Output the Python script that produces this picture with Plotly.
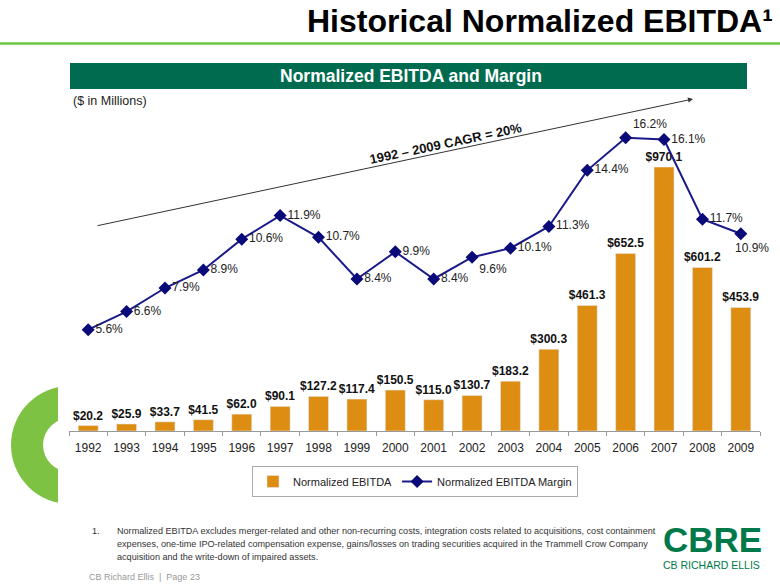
import plotly.graph_objects as go

years = ["1992", "1993", "1994", "1995", "1996", "1997", "1998", "1999", "2000",
         "2001", "2002", "2003", "2004", "2005", "2006", "2007", "2008", "2009"]
ebitda = [20.2, 25.9, 33.7, 41.5, 62.0, 90.1, 127.2, 117.4, 150.5,
          115.0, 130.7, 183.2, 300.3, 461.3, 652.5, 970.1, 601.2, 453.9]
margin = [5.6, 6.6, 7.9, 8.9, 10.6, 11.9, 10.7, 8.4, 9.9,
          8.4, 9.6, 10.1, 11.3, 14.4, 16.2, 16.1, 11.7, 10.9]
margin_labels = [f"{m:.1f}%" for m in margin]
margin_pos = ["middle right"] * 18
margin_pos[10] = "bottom right"
margin_pos[14] = "top right"

W, H = 780, 585
L, R, T, B = 69, 760, 120, 431
FONT = "Arial, Liberation Sans, sans-serif"
BAR = "#DE8D13"
NAVY = "#1A1A8A"
DKGREEN = "#006B4F"


def px(x):
    return (x - L) / (R - L)


def py(y):
    return (B - y) / (B - T)


# last point's label sits below and slightly right of its marker
trace_text = margin_labels[:-1] + [""]

fig = go.Figure()
fig.add_trace(go.Bar(
    x=years, y=ebitda, name="Normalized EBITDA", marker_color=BAR,
    width=0.52, texttemplate="<b>$%{y:.1f}</b>", textposition="outside",
    textfont=dict(family=FONT, size=12, color="#111111"),
    constraintext="none", cliponaxis=False, yaxis="y"))
fig.add_trace(go.Scatter(
    x=years, y=margin, name="Normalized EBITDA Margin", yaxis="y2",
    mode="lines+markers+text", line=dict(color=NAVY, width=2),
    marker=dict(symbol="diamond", size=10, color="#0A0A78"),
    text=trace_text, textposition=margin_pos,
    textfont=dict(family=FONT, size=12, color="#222222"), cliponaxis=False))

shapes = [
    dict(type="circle", xref="paper", yref="paper", x0=px(11), x1=px(129),
         y0=py(504), y1=py(386), fillcolor="#7DC242", line_width=0, layer="below"),
    dict(type="circle", xref="paper", yref="paper", x0=px(43), x1=px(97),
         y0=py(472), y1=py(418), fillcolor="white", line_width=0, layer="below"),
    dict(type="rect", xref="paper", yref="paper", x0=px(58), x1=px(781),
         y0=py(586), y1=py(-1), fillcolor="white", line_width=0, layer="below"),
    dict(type="line", xref="paper", yref="paper", x0=px(0), x1=px(780),
         y0=py(43.5), y1=py(43.5), line=dict(color="#6CC644", width=2.5), layer="below"),
    dict(type="rect", xref="paper", yref="paper", x0=px(70), x1=px(747),
         y0=py(89), y1=py(63), fillcolor=DKGREEN, line_width=0, layer="below"),
]

ann = [
    dict(text="<b>Historical Normalized EBITDA¹</b>", x=px(775), y=py(21),
         xanchor="right", yanchor="middle", font=dict(family=FONT, size=32, color="#000000")),
    dict(text="<b>Normalized EBITDA and Margin</b>", x=px(411), y=py(76),
         xanchor="center", yanchor="middle", font=dict(family=FONT, size=17.5, color="white")),
    dict(text="($ in Millions)", x=px(71), y=py(101), xanchor="left", yanchor="middle",
         font=dict(family=FONT, size=12.5, color="#222222")),
    dict(text="<b>1992 – 2009 CAGR = 20%</b>", x=px(446), y=py(143), textangle=-12,
         xanchor="center", yanchor="middle", font=dict(family=FONT, size=13, color="#111111")),
    dict(text=" ", x=px(693), y=py(99), ax=96 - 693, ay=226 - 99, showarrow=True,
         arrowhead=2, arrowsize=1, arrowwidth=1, arrowcolor="#333333",
         font=dict(size=1)),
    dict(text=margin_labels[-1], x=len(years) - 1, y=margin[-1], xref="x", yref="y2",
         xanchor="center", yanchor="top", xshift=11, yshift=-5,
         font=dict(family=FONT, size=12, color="#222222")),
    dict(text="1.", x=px(90), y=py(531), xanchor="left", yanchor="middle",
         font=dict(family=FONT, size=9.1, color="#333333")),
    dict(text="Normalized EBITDA excludes merger-related and other non-recurring costs, integration costs related to acquisitions, cost containment",
         x=px(115), y=py(531), xanchor="left", yanchor="middle",
         font=dict(family=FONT, size=9.1, color="#333333")),
    dict(text="expenses, one-time IPO-related compensation expense, gains/losses on trading securities acquired in the Trammell Crow Company",
         x=px(115), y=py(544), xanchor="left", yanchor="middle",
         font=dict(family=FONT, size=9.1, color="#333333")),
    dict(text="acquisition and the write-down of impaired assets.",
         x=px(115), y=py(557), xanchor="left", yanchor="middle",
         font=dict(family=FONT, size=9.1, color="#333333")),
    dict(text="CB Richard Ellis  |  Page 23", x=px(87), y=py(577), xanchor="left", yanchor="middle",
         font=dict(family=FONT, size=9, color="#999999")),
    dict(text="<b>CBRE</b>", x=px(712), y=py(539), xanchor="center", yanchor="middle",
         font=dict(family=FONT, size=35, color="#00794A")),
    dict(text="CB RICHARD ELLIS", x=px(711), y=py(565), xanchor="center", yanchor="middle",
         font=dict(family=FONT, size=10.5, color="#00794A")),
]
for a in ann:
    a.setdefault("xref", "paper")
    a.setdefault("yref", "paper")
    a.setdefault("showarrow", False)
    if a.get("showarrow"):
        a["axref"] = "pixel"
        a["ayref"] = "pixel"

fig.update_layout(
    width=W, height=H, margin=dict(l=L, r=W - R, t=T, b=H - B, pad=0),
    paper_bgcolor="white", plot_bgcolor="rgba(0,0,0,0)",
    font=dict(family=FONT, size=12, color="#222222"),
    shapes=shapes, annotations=ann, bargap=0.48,
    xaxis=dict(type="category", range=[-0.5, 17.5], showgrid=False, zeroline=False,
               showline=True, linecolor="#999999", linewidth=1,
               ticks="outside", ticklen=4, tickcolor="#999999", tickson="boundaries",
               ticklabelstandoff=6,
               tickfont=dict(family=FONT, size=12, color="#222222")),
    yaxis=dict(range=[0, (B - T) / 0.2721], visible=False, fixedrange=True),
    yaxis2=dict(range=[0, (B - T) / 18.1], overlaying="y", visible=False),
    legend=dict(orientation="h", x=px(415), xanchor="center", y=py(466), yanchor="top",
                bordercolor="#AAAAAA", borderwidth=1, bgcolor="white",
                font=dict(family=FONT, size=11, color="#222222"),
                traceorder="normal"),
    showlegend=True,
)

fig.write_html("out.html")
